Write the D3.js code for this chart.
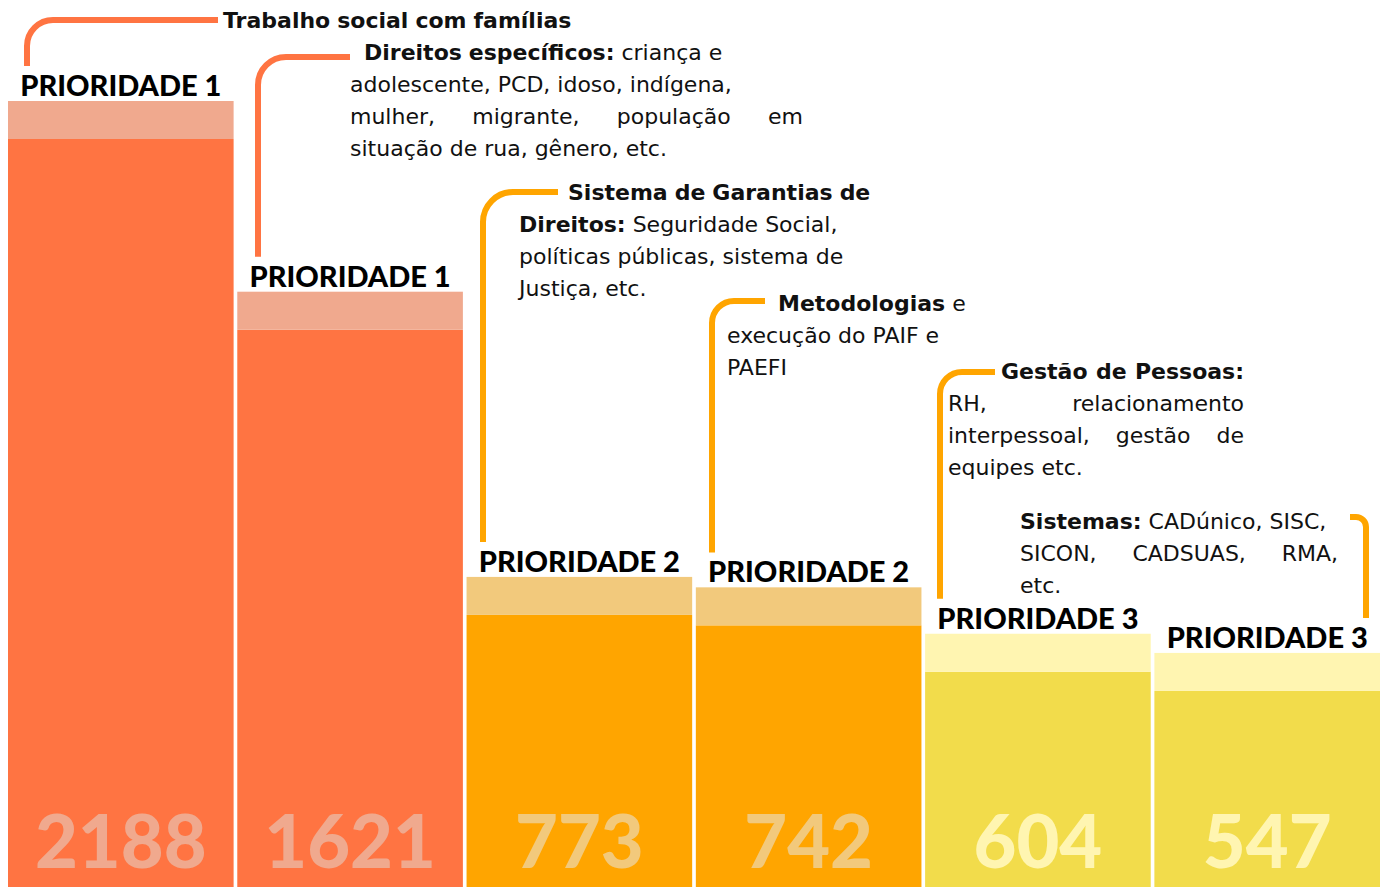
<!DOCTYPE html>
<html>
<head>
<meta charset="utf-8">
<script src="https://cdn.jsdelivr.net/npm/d3@7"></script>
<style>
  body { margin: 0; background: #fff; }
  svg { display: block; }
</style>
</head>
<body>
<svg id="chart"></svg>
<script>
// Chart data
const priorities = ["PRIORIDADE 1", "PRIORIDADE 1", "PRIORIDADE 2", "PRIORIDADE 2", "PRIORIDADE 3", "PRIORIDADE 3"];
const counts = [2188, 1621, 773, 742, 604, 547];
// Topic text for each bar, one string per line, **bold** parts marked
const topics = [
    ["**Trabalho social com famílias**"],
    ["**Direitos específicos:** criança e", "adolescente, PCD, idoso, indígena,", "mulher, migrante, população em", "situação de rua, gênero, etc."],
    ["**Sistema de Garantias de**", "**Direitos:** Seguridade Social,", "políticas públicas, sistema de", "Justiça, etc."],
    ["**Metodologias** e", "execução do PAIF e", "PAEFI"],
    ["**Gestão de Pessoas:**", "RH, relacionamento", "interpessoal, gestão de", "equipes etc."],
    ["**Sistemas:** CADúnico, SISC,", "SICON, CADSUAS, RMA,", "etc."]
];

const width = 1387;
const height = 887;

// colours per priority level
const palette = {
    "PRIORIDADE 1": { main: "#FF7442", light: "#F0A98E" },
    "PRIORIDADE 2": { main: "#FFA500", light: "#F2C97C" },
    "PRIORIDADE 3": { main: "#F2DC4B", light: "#FFF5B1" }
};
// leader colour per annotation
const leaderColor = ["#FF7442", "#FF7442", "#FFA500", "#FFA500", "#FFA500", "#FFA500"];

// where each text block sits (left, first-line left, first baseline, right edge, justified lines)
const annLayout = [
    { x: 223, x1: 223, y: 28, right: 570, justify: [], hx: 218, hy: 20, vx: 27, r: 26, side: "left" },
    { x: 350, x1: 364, y: 60, right: 803, justify: [2], hx: 350, hy: 57, vx: 258, r: 28, side: "left" },
    { x: 519, x1: 568, y: 200, right: 866, justify: [], hx: 558, hy: 192, vx: 483, r: 30, side: "left" },
    { x: 727, x1: 778, y: 311, right: 960, justify: [], hx: 765, hy: 301, vx: 712, r: 22, side: "left" },
    { x: 948, x1: 1001, y: 379, right: 1244, justify: [0, 1, 2], hx: 995, hy: 372, vx: 940, r: 22, side: "left" },
    { x: 1020, x1: 1020, y: 529, right: 1338, justify: [1], hx: 1350, hy: 517, vx: 1366, r: 10, side: "right" }
];

const svg = d3.select("#chart")
    .attr("width", width)
    .attr("height", height);

svg.append("rect").attr("width", width).attr("height", height).attr("fill", "#fff");

const x = d3.scaleBand()
    .domain(d3.range(counts.length))
    .range([8, 1380])
    .paddingInner(0.016);

// bars are not started at zero in the original, a small offset keeps the shape
const y = d3.scaleLinear()
    .domain([-36, d3.max(counts)])
    .range([height, 139]);

const capH = 38;

const bars = svg.append("g");

// main bar
bars.selectAll("rect.main")
    .data(counts)
    .enter()
    .append("rect")
    .attr("class", "main")
    .attr("x", (d, i) => x(i))
    .attr("y", d => y(d))
    .attr("width", x.bandwidth())
    .attr("height", d => height - y(d))
    .attr("fill", (d, i) => palette[priorities[i]].main);

// light cap on top
bars.selectAll("rect.cap")
    .data(counts)
    .enter()
    .append("rect")
    .attr("class", "cap")
    .attr("x", (d, i) => x(i))
    .attr("y", d => y(d) - capH)
    .attr("width", x.bandwidth())
    .attr("height", capH)
    .attr("fill", (d, i) => palette[priorities[i]].light);

// big numbers
bars.selectAll("text.value")
    .data(counts)
    .enter()
    .append("text")
    .attr("class", "value")
    .attr("x", (d, i) => x(i) + x.bandwidth() / 2)
    .attr("y", height - 19)
    .attr("text-anchor", "middle")
    .attr("font-family", "Lato, sans-serif")
    .attr("font-weight", 900)
    .attr("font-size", 74)
    .attr("fill", (d, i) => palette[priorities[i]].light)
    .text(d => d);

// priority labels
const labelSize = 29;
const labelBase = counts.map(d => y(d) - capH - 5);

svg.append("g").selectAll("text")
    .data(priorities)
    .enter()
    .append("text")
    .attr("x", (d, i) => x(i) + x.bandwidth() / 2)
    .attr("y", (d, i) => labelBase[i])
    .attr("text-anchor", "middle")
    .attr("font-family", "Lato, sans-serif")
    .attr("font-weight", 900)
    .attr("font-size", labelSize)
    .attr("fill", "#000")
    .text(d => d);

// text helpers
const annFont = "'DejaVu Sans', sans-serif";
const annSize = 22;
const lineH = 32;

const probe = svg.append("text")
    .attr("font-family", annFont)
    .attr("font-size", annSize)
    .style("white-space", "pre")
    .attr("visibility", "hidden");

function measure(str, bold) {
    probe.attr("font-weight", bold ? 700 : 400).text(str);
    return probe.node().getComputedTextLength();
}

function parseLine(line) {
    let bold = false;
    return line.split(" ").map(raw => {
        let w = raw;
        if (w.startsWith("**")) { bold = true; w = w.slice(2); }
        let closes = false;
        if (w.endsWith("**")) { closes = true; w = w.slice(0, -2); }
        const word = { text: w, bold: bold };
        if (closes) bold = false;
        return word;
    });
}

const spaceW = measure("a a", false) - measure("aa", false);

// leaders
const leaders = svg.append("g");
annLayout.forEach((L, i) => {
    const labelTop = labelBase[i] - labelSize * 0.72;
    const bottom = labelTop - 9;
    let d;
    if (L.side === "left") {
        d = `M${L.hx},${L.hy} H${L.vx + L.r} A${L.r},${L.r} 0 0 0 ${L.vx},${L.hy + L.r} V${bottom}`;
    } else {
        d = `M${L.hx},${L.hy} H${L.vx - L.r} A${L.r},${L.r} 0 0 1 ${L.vx},${L.hy + L.r} V${bottom}`;
    }
    leaders.append("path")
        .attr("d", d)
        .attr("fill", "none")
        .attr("stroke", leaderColor[i])
        .attr("stroke-width", 6);
});

// annotation blocks
const notes = svg.append("g")
    .attr("font-family", annFont)
    .attr("font-size", annSize)
    .attr("fill", "#111");

topics.forEach((lines, i) => {
    const L = annLayout[i];
    lines.forEach((line, j) => {
        const words = parseLine(line);
        const widths = words.map(w => measure(w.text, w.bold));
        const x0 = j === 0 ? L.x1 : L.x;
        let gap = spaceW;
        if (L.justify.includes(j) && words.length > 1) {
            gap = (L.right - x0 - d3.sum(widths)) / (words.length - 1);
        }
        const t = notes.append("text").attr("y", L.y + j * lineH);
        let cx = x0;
        words.forEach((w, k) => {
            t.append("tspan")
                .attr("x", cx)
                .attr("font-weight", w.bold ? 700 : 400)
                .text(w.text);
            cx += widths[k] + gap;
        });
    });
});

probe.remove();
</script>
</body>
</html>
